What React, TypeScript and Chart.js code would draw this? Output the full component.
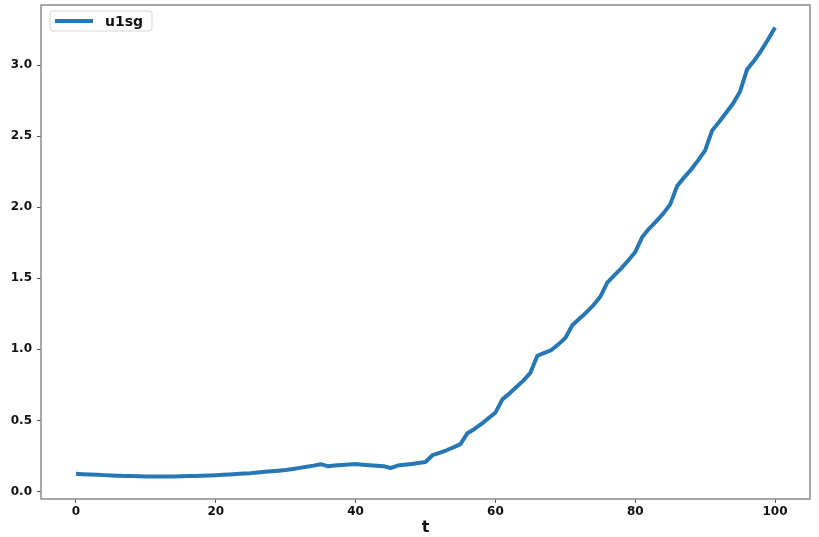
import React, { useEffect, useRef } from 'react';
import { Chart, registerables } from 'chart.js';

Chart.register(...registerables);

const seriesLabel = 'u1sg';
const axisTitle = 't';

const tValues = [
  0, 1, 2, 3, 4, 5, 6, 7, 8, 9,
  10, 11, 12, 13, 14, 15, 16, 17, 18, 19,
  20, 21, 22, 23, 24, 25, 26, 27, 28, 29,
  30, 31, 32, 33, 34, 35, 36, 37, 38, 39,
  40, 41, 42, 43, 44, 45, 46, 47, 48, 49,
  50, 51, 52, 53, 54, 55, 56, 57, 58, 59,
  60, 61, 62, 63, 64, 65, 66, 67, 68, 69,
  70, 71, 72, 73, 74, 75, 76, 77, 78, 79,
  80, 81, 82, 83, 84, 85, 86, 87, 88, 89,
  90, 91, 92, 93, 94, 95, 96, 97, 98, 99,
  100,
];

const u1sg = [
  0.125, 0.122, 0.119, 0.117, 0.115, 0.113, 0.111, 0.109, 0.108, 0.107,
  0.106, 0.105, 0.105, 0.105, 0.106, 0.107, 0.108, 0.109, 0.110, 0.112,
  0.114, 0.117, 0.120, 0.123, 0.126, 0.129, 0.134, 0.138, 0.142, 0.146,
  0.151, 0.158, 0.166, 0.174, 0.182, 0.192, 0.178, 0.182, 0.186, 0.190,
  0.193, 0.188, 0.184, 0.181, 0.178, 0.165, 0.182, 0.188, 0.194, 0.200,
  0.207, 0.255, 0.272, 0.290, 0.310, 0.333, 0.410, 0.440, 0.475, 0.515,
  0.555, 0.648, 0.690, 0.735, 0.780, 0.835, 0.955, 0.975, 0.995, 1.035,
  1.080, 1.170, 1.215, 1.260, 1.310, 1.370, 1.470, 1.520, 1.570, 1.625,
  1.685, 1.790, 1.850, 1.900, 1.955, 2.020, 2.150, 2.210, 2.265, 2.330,
  2.400, 2.540, 2.600, 2.665, 2.730, 2.815, 2.970, 3.030, 3.100, 3.180,
  3.265,
];

const xTicks = [0, 20, 40, 60, 80, 100];
const yTicks = [0.0, 0.5, 1.0, 1.5, 2.0, 2.5, 3.0];

const LINE_COLOR = '#2677b4';
const TICK_FONT = { family: '"DejaVu Sans", sans-serif', size: 12, weight: 'bold' as const };

const framePlugin = {
  id: 'mplFrame',
  afterDatasetsDraw(chart: any) {
    const { ctx, chartArea: a } = chart;
    ctx.save();
    ctx.strokeStyle = '#8a8a8a';
    ctx.lineWidth = 1.5;
    ctx.strokeRect(a.left, a.top, a.right - a.left, a.bottom - a.top);

    // matplotlib-style legend, upper left
    const label = chart.data.datasets[0].label as string;
    const bx = a.left + 9;
    const by = a.top + 6;
    const bw = 102;
    const bh = 20;
    const r = 3;
    ctx.fillStyle = 'rgba(255,255,255,0.85)';
    ctx.strokeStyle = '#d5d5d5';
    ctx.lineWidth = 1;
    ctx.beginPath();
    ctx.moveTo(bx + r, by);
    ctx.lineTo(bx + bw - r, by);
    ctx.quadraticCurveTo(bx + bw, by, bx + bw, by + r);
    ctx.lineTo(bx + bw, by + bh - r);
    ctx.quadraticCurveTo(bx + bw, by + bh, bx + bw - r, by + bh);
    ctx.lineTo(bx + r, by + bh);
    ctx.quadraticCurveTo(bx, by + bh, bx, by + bh - r);
    ctx.lineTo(bx, by + r);
    ctx.quadraticCurveTo(bx, by, bx + r, by);
    ctx.closePath();
    ctx.fill();
    ctx.stroke();

    ctx.strokeStyle = LINE_COLOR;
    ctx.lineWidth = 4;
    ctx.beginPath();
    ctx.moveTo(bx + 5, by + bh / 2);
    ctx.lineTo(bx + 43, by + bh / 2);
    ctx.stroke();

    ctx.fillStyle = '#111';
    ctx.font = 'bold 14px "DejaVu Sans", sans-serif';
    ctx.textBaseline = 'middle';
    ctx.textAlign = 'left';
    ctx.fillText(label, bx + 55, by + bh / 2 + 1);
    ctx.restore();
  },
};

export default function App() {
  const canvasRef = useRef<HTMLCanvasElement | null>(null);

  useEffect(() => {
    document.body.style.margin = '0';
    const canvas = canvasRef.current;
    if (!canvas) return;
    const chart = new Chart(canvas, {
      type: 'line',
      data: {
        datasets: [
          {
            label: seriesLabel,
            data: tValues.map((t, i) => ({ x: t, y: u1sg[i] })),
            borderColor: LINE_COLOR,
            backgroundColor: LINE_COLOR,
            borderWidth: 4,
            pointRadius: 0,
            tension: 0,
            borderJoinStyle: 'round',
            borderCapStyle: 'butt',
          },
        ],
      },
      options: {
        responsive: false,
        animation: false,
        maintainAspectRatio: false,
        layout: { padding: { top: 5, right: 9, left: 0, bottom: 0 } },
        plugins: {
          legend: { display: false },
          tooltip: { enabled: false },
        },
        scales: {
          x: {
            type: 'linear',
            min: -5,
            max: 105,
            afterBuildTicks: (scale: any) => {
              scale.ticks = xTicks.map((v) => ({ value: v }));
            },
            afterFit: (scale: any) => {
              scale.height = 38;
              scale.paddingLeft = 0;
              scale.paddingRight = 0;
              scale.paddingTop = 0;
              scale.paddingBottom = 0;
            },
            ticks: {
              color: '#111',
              font: TICK_FONT,
              padding: 2,
              maxRotation: 0,
              autoSkip: false,
              callback: (v: any) => String(v),
            },
            grid: {
              drawOnChartArea: false,
              drawTicks: true,
              tickLength: 4,
              color: '#555',
            },
            border: { display: false },
            title: {
              display: true,
              text: axisTitle,
              color: '#111',
              font: { family: '"DejaVu Sans", sans-serif', size: 16, weight: 'bold' },
              padding: { top: 0, bottom: 0 },
            },
          },
          y: {
            type: 'linear',
            min: -0.053,
            max: 3.423,
            afterBuildTicks: (scale: any) => {
              scale.ticks = yTicks.map((v) => ({ value: v }));
            },
            afterFit: (scale: any) => {
              scale.width = 41;
              scale.paddingTop = 0;
              scale.paddingBottom = 0;
              scale.paddingLeft = 0;
              scale.paddingRight = 0;
            },
            ticks: {
              color: '#111',
              font: TICK_FONT,
              padding: 5,
              autoSkip: false,
              callback: (v: any) => Number(v).toFixed(1),
            },
            grid: {
              drawOnChartArea: false,
              drawTicks: true,
              tickLength: 4,
              color: '#555',
            },
            border: { display: false },
          },
        },
      },
      plugins: [framePlugin],
    });
    return () => chart.destroy();
  }, []);

  return (
    <div style={{ width: 819, height: 537, background: '#fff' }}>
      <canvas ref={canvasRef} width={819} height={537} style={{ display: 'block' }} />
    </div>
  );
}
